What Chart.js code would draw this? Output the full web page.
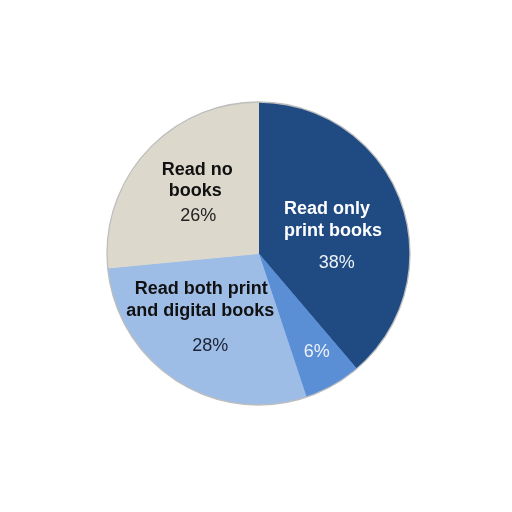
<!DOCTYPE html>
<html>
<head>
<meta charset="utf-8">
<script src="https://cdn.jsdelivr.net/npm/chart.js@4"></script>
<style>
  html, body { margin: 0; padding: 0; background: #ffffff; }
  #wrap { position: relative; width: 512px; height: 512px; }
</style>
</head>
<body>
<div id="wrap"><canvas id="c" width="512" height="512"></canvas></div>
<script>
// ---- data ----
const categories = [
  ["Read only", "print books"],
  [],
  ["Read both print", "and digital books"],
  ["Read no", "books"]
];
const values = [38, 6, 28, 26];
const valueLabels = ["38%", "6%", "28%", "26%"];

// ---- styles / layout (not data) ----
const colors = ["#1f4a82", "#5a8ed5", "#9dbde7", "#dcd9cc"];
const titleColors = ["#ffffff", "#ffffff", "#111111", "#111111"];
const pctColors = ["#eef2f8", "#eef2f8", "#1a2233", "#222222"];
// per-slice label layout: offsets from pie centre (px at r=151.5)
const titleLayout = [
  { lines: [[25.5, -44.5, "left"], [25.5, -22.5, "left"]], pct: [78.5, 9.5] },
  { lines: [], pct: [58.5, 98.5] },
  { lines: [[-57.5, 35.5, "center"], [-58.5, 57.5, "center"]], pct: [-48.5, 92.5] },
  { lines: [[-61.5, -83.5, "center"], [-63.5, -62.5, "center"]], pct: [-60.5, -37.5] }
];

const labelPlugin = {
  id: 'sliceLabels',
  afterDatasetsDraw(chart) {
    const meta = chart.getDatasetMeta(0);
    const arc0 = meta.data[0];
    const cx = arc0.x, cy = arc0.y, r = arc0.outerRadius;
    const ctx = chart.ctx;
    ctx.save();
    // outer outline
    ctx.beginPath();
    ctx.arc(cx, cy, r + 0.5, 0, Math.PI * 2);
    ctx.strokeStyle = '#bdbdbd';
    ctx.lineWidth = 1.3;
    ctx.stroke();
    const s = r / 151.5;
    ctx.textBaseline = 'middle';
    titleLayout.forEach((lay, i) => {
      ctx.font = 'bold 18px "Liberation Sans", Arial, sans-serif';
      ctx.fillStyle = titleColors[i];
      lay.lines.forEach((ln, j) => {
        ctx.textAlign = ln[2];
        ctx.fillText(categories[i][j], cx + ln[0] * s, cy + ln[1] * s);
      });
      ctx.font = '18px "Liberation Sans", Arial, sans-serif';
      ctx.fillStyle = pctColors[i];
      ctx.textAlign = 'center';
      ctx.fillText(valueLabels[i], cx + lay.pct[0] * s, cy + lay.pct[1] * s);
    });
    ctx.restore();
  }
};

new Chart(document.getElementById('c'), {
  type: 'pie',
  data: {
    labels: categories.map((c, i) => c.length ? c.join(' ') : valueLabels[i]),
    datasets: [{
      data: values,
      backgroundColor: colors,
      borderColor: colors,
      borderWidth: 1,
      hoverOffset: 0,
      offset: 0
    }]
  },
  options: {
    responsive: false,
    animation: false,
    devicePixelRatio: 1,
    layout: { padding: { left: 107, top: 102, right: 102, bottom: 107 } },
    plugins: {
      legend: { display: false },
      tooltip: { enabled: false }
    },
    events: []
  },
  plugins: [labelPlugin]
});
</script>
</body>
</html>
